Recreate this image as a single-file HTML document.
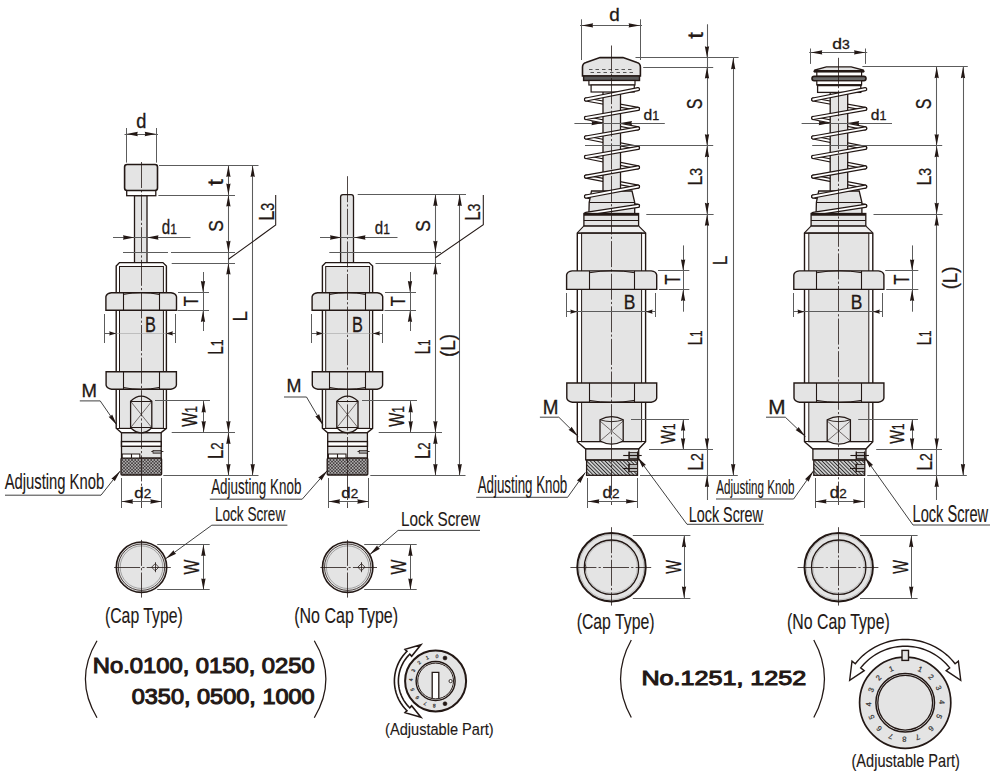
<!DOCTYPE html>
<html><head><meta charset="utf-8"><style>
html,body{margin:0;padding:0;background:#fff;width:1000px;height:779px;overflow:hidden}
svg{display:block}
text{font-family:"Liberation Sans",sans-serif;fill:#231815;stroke:#231815;stroke-width:0.3}
</style></head><body>
<svg width="1000" height="779" viewBox="0 0 1000 779">
<defs>
<pattern id="knurl" width="3.2" height="3.2" patternUnits="userSpaceOnUse">
<rect width="3.2" height="3.2" fill="#423d3e"/><circle cx="0.8" cy="0.8" r="0.72" fill="#e6e6e6"/><circle cx="2.4" cy="2.4" r="0.72" fill="#e6e6e6"/>
</pattern>
<pattern id="hatch" width="2.6" height="2.6" patternUnits="userSpaceOnUse" patternTransform="rotate(-45)">
<rect width="2.6" height="2.6" fill="#d4d4d4"/><rect width="0.95" height="2.6" fill="#2e2e2e"/>
</pattern>
</defs>
<rect width="1000" height="779" fill="#fff"/>
<rect x="134.5" y="195.5" width="12.5" height="67.5" rx="0" fill="#e4e4e4" stroke="#231815" stroke-width="1.3" />
<rect x="124.6" y="164.5" width="32.9" height="26.1" rx="2.5" fill="#e4e4e4" stroke="#231815" stroke-width="1.6" />
<rect x="126.7" y="190.6" width="29.1" height="5.1" rx="0" fill="#fff" stroke="#231815" stroke-width="1.3" />
<path d="M116.2 266 L119.5 262.6 L162.9 262.6 L166.4 266 L166.4 428.3 L160.9 432.8 L121.5 432.8 L116.2 428.3 Z" fill="#fff" stroke="#231815" stroke-width="1.4" />
<rect x="119.5" y="266.5" width="43.9" height="161.8" rx="0" fill="#e4e4e4" stroke="#231815" stroke-width="1.0" />
<line x1="116.2" y1="428.5" x2="166.2" y2="428.5" stroke="#231815" stroke-width="1.0" />
<rect x="121.5" y="432.8" width="39.7" height="25.4" rx="0" fill="#e4e4e4" stroke="#231815" stroke-width="1.3" />
<rect x="121.5" y="441.6" width="39.7" height="4.7" rx="0" fill="#fff" stroke="#231815" stroke-width="1.4" />
<path d="M122.2 458.2 L122.2 454 L139.8 454 L139.8 458.2" fill="#fff" stroke="#231815" stroke-width="1.1" />
<line x1="131.5" y1="454" x2="131.5" y2="458.2" stroke="#231815" stroke-width="1.1" />
<line x1="151.3" y1="451.5" x2="163.4" y2="451.5" stroke="#231815" stroke-width="0.9" />
<rect x="153" y="450.6" width="8" height="2.6" rx="0" fill="#999" stroke="#231815" stroke-width="0.7" />
<rect x="121" y="458.2" width="40.6" height="16.8" rx="1" fill="url(#knurl)" stroke="#231815" stroke-width="1.3" />
<path d="M105.9 310.3 L105.9 296.7 Q106.5 293.3 111.4 292.7 L171 292.7 Q175.9 293.3 176.5 296.7 L176.5 310.3 Z" fill="#e4e4e4" stroke="#231815" stroke-width="1.4" />
<line x1="123.5" y1="292.7" x2="123.5" y2="310.3" stroke="#231815" stroke-width="1.1" />
<line x1="159.5" y1="292.7" x2="159.5" y2="310.3" stroke="#231815" stroke-width="1.1" />
<path d="M123.1 294.5 Q141.2 290.5 159.3 294.5" fill="none" stroke="#231815" stroke-width="1.0" />
<path d="M106.1 371.8 L176.4 371.8 L176.4 385.2 Q175.8 388.6 170.9 389.2 L111.6 389.2 Q106.7 388.6 106.1 385.2 Z" fill="#e4e4e4" stroke="#231815" stroke-width="1.4" />
<line x1="123.5" y1="371.8" x2="123.5" y2="389.2" stroke="#231815" stroke-width="1.1" />
<line x1="159.5" y1="371.8" x2="159.5" y2="389.2" stroke="#231815" stroke-width="1.1" />
<path d="M123 387.4 Q141.2 391.4 159.4 387.4" fill="none" stroke="#231815" stroke-width="1.0" />
<path d="M130.6 401.3 Q141.2 391 151.8 401.3 L151.8 427.7 Q141.2 438 130.6 427.7 Z" fill="#e4e4e4" stroke="#231815" stroke-width="1.3" />
<line x1="130.6" y1="401.5" x2="151.8" y2="401.5" stroke="#231815" stroke-width="1.0" />
<line x1="130.6" y1="427.5" x2="151.8" y2="427.5" stroke="#231815" stroke-width="1.0" />
<line x1="130.6" y1="401.3" x2="151.8" y2="427.7" stroke="#231815" stroke-width="0.6" />
<line x1="151.8" y1="401.3" x2="130.6" y2="427.7" stroke="#231815" stroke-width="0.6" />
<line x1="141.5" y1="162" x2="141.5" y2="508" stroke="#231815" stroke-width="0.8" stroke-dasharray="26 2.2 2.2 2.2"/>
<circle cx="141.5" cy="567.2" r="25.2" fill="#e4e4e4" stroke="#231815" stroke-width="1.6" />
<circle cx="141.5" cy="567.2" r="23.2" fill="none" stroke="#231815" stroke-width="0.8" />
<circle cx="141.5" cy="567.2" r="21.3" fill="none" stroke="#777" stroke-width="0.6" />
<line x1="114.1" y1="567.5" x2="170.8" y2="567.5" stroke="#231815" stroke-width="0.8" stroke-dasharray="26 2.2 2.2 2.2"/>
<line x1="141.5" y1="539.9" x2="141.5" y2="597.6" stroke="#231815" stroke-width="0.8" stroke-dasharray="26 2.2 2.2 2.2"/>
<path d="M155.2 563.6 L158.8 567.2 L155.2 570.8 L151.6 567.2 Z" fill="none" stroke="#231815" stroke-width="0.8" />
<line x1="155.5" y1="562.2" x2="155.5" y2="572.2" stroke="#231815" stroke-width="0.8" />
<line x1="126.5" y1="128" x2="126.5" y2="162.6" stroke="#5c5c5c" stroke-width="1.05" />
<line x1="156.5" y1="128" x2="156.5" y2="162.6" stroke="#5c5c5c" stroke-width="1.05" />
<line x1="124.5" y1="134.5" x2="158" y2="134.5" stroke="#5c5c5c" stroke-width="1.05" />
<path d="M126.3 134 L137.8 131.85 L137.2 134 L137.8 136.15 Z" fill="#231815"/>
<path d="M156.2 134 L144.7 136.15 L145.3 134 L144.7 131.85 Z" fill="#231815"/>
<text x="136.23" y="128" font-size="19.31" style="stroke-width:0.3" textLength="10.14" lengthAdjust="spacingAndGlyphs">d</text>
<line x1="159" y1="165.5" x2="258.5" y2="165.5" stroke="#5c5c5c" stroke-width="1.05" />
<line x1="158.4" y1="195.5" x2="235" y2="195.5" stroke="#5c5c5c" stroke-width="1.05" />
<line x1="228.5" y1="165.4" x2="228.5" y2="475.5" stroke="#5c5c5c" stroke-width="1.05" />
<path d="M228.4 165.4 L230.55 176.9 L228.4 176.3 L226.25 176.9 Z" fill="#231815"/>
<path d="M228.4 195.1 L226.25 183.6 L228.4 184.2 L230.55 183.6 Z" fill="#231815"/>
<path d="M228.4 195.1 L230.55 206.6 L228.4 206 L226.25 206.6 Z" fill="#231815"/>
<path d="M228.4 252.3 L226.25 240.8 L228.4 241.4 L230.55 240.8 Z" fill="#231815"/>
<path d="M228.4 263 L230.55 274.5 L228.4 273.9 L226.25 274.5 Z" fill="#231815"/>
<path d="M228.4 432.6 L226.25 421.1 L228.4 421.7 L230.55 421.1 Z" fill="#231815"/>
<path d="M228.4 432.6 L230.55 444.1 L228.4 443.5 L226.25 444.1 Z" fill="#231815"/>
<path d="M228.4 475.5 L226.25 464 L228.4 464.6 L230.55 464 Z" fill="#231815"/>
<line x1="252.5" y1="165.4" x2="252.5" y2="475.5" stroke="#5c5c5c" stroke-width="1.05" />
<path d="M252.7 165.4 L254.85 176.9 L252.7 176.3 L250.55 176.9 Z" fill="#231815"/>
<path d="M252.7 475.5 L250.55 464 L252.7 464.6 L254.85 464 Z" fill="#231815"/>
<path d="M275.7 195 L275.7 225 L228.4 259.3" fill="none" stroke="#231815" stroke-width="1.05" />
<text transform="translate(223.4 185.4) rotate(-90)" x="-0.37" font-size="22.5" textLength="6.75" lengthAdjust="spacingAndGlyphs">t</text>
<text transform="translate(223.4 231) rotate(-90)" x="-0.79" font-size="21.13" textLength="11.59" lengthAdjust="spacingAndGlyphs">S</text>
<text transform="translate(273.5 219.3) rotate(-90)" x="-1.48" font-size="21.86" textLength="18.01" lengthAdjust="spacingAndGlyphs">L<tspan font-size="17.49">3</tspan></text>
<text transform="translate(223.4 353.5) rotate(-90)" x="-1.26" font-size="21.43" textLength="15.36" lengthAdjust="spacingAndGlyphs">L<tspan font-size="17.14">1</tspan></text>
<text transform="translate(246.8 320) rotate(-90)" x="-1.54" font-size="21.14" textLength="10.47" lengthAdjust="spacingAndGlyphs">L</text>
<text transform="translate(223.4 457.6) rotate(-90)" x="-1.36" font-size="21.43" textLength="16.63" lengthAdjust="spacingAndGlyphs">L<tspan font-size="17.14">2</tspan></text>
<line x1="113" y1="237.5" x2="190.5" y2="237.5" stroke="#5c5c5c" stroke-width="1.05" />
<path d="M134.5 237.5 L123 239.65 L123.6 237.5 L123 235.35 Z" fill="#231815"/>
<path d="M147 237.5 L158.5 235.35 L157.9 237.5 L158.5 239.65 Z" fill="#231815"/>
<text x="161.87" y="234" font-size="19.31" style="stroke-width:0.3" textLength="15.12" lengthAdjust="spacingAndGlyphs">d<tspan font-size="15.45">1</tspan></text>
<line x1="123" y1="252.5" x2="168" y2="252.5" stroke="#5c5c5c" stroke-width="1.05" />
<line x1="171" y1="252.5" x2="235" y2="252.5" stroke="#5c5c5c" stroke-width="1.05" />
<line x1="171.7" y1="263.5" x2="235" y2="263.5" stroke="#5c5c5c" stroke-width="1.05" />
<line x1="203.5" y1="272" x2="203.5" y2="331" stroke="#5c5c5c" stroke-width="1.05" />
<path d="M203 292.5 L200.85 281 L203 281.6 L205.15 281 Z" fill="#231815"/>
<path d="M203 310.4 L205.15 321.9 L203 321.3 L200.85 321.9 Z" fill="#231815"/>
<line x1="178" y1="292.5" x2="209" y2="292.5" stroke="#5c5c5c" stroke-width="1.05" />
<line x1="177.5" y1="310.5" x2="209" y2="310.5" stroke="#5c5c5c" stroke-width="1.05" />
<text transform="translate(198 305.9) rotate(-90)" x="-0.37" font-size="20.86" textLength="9.94" lengthAdjust="spacingAndGlyphs">T</text>
<line x1="104.5" y1="314" x2="104.5" y2="343" stroke="#5c5c5c" stroke-width="1.05" />
<line x1="175.5" y1="314" x2="175.5" y2="343" stroke="#5c5c5c" stroke-width="1.05" />
<line x1="104.6" y1="333.5" x2="116.2" y2="333.5" stroke="#5c5c5c" stroke-width="1.05" />
<line x1="165.9" y1="333.5" x2="175.2" y2="333.5" stroke="#5c5c5c" stroke-width="1.05" />
<line x1="116.2" y1="333.5" x2="165.9" y2="333.5" stroke="#999" stroke-width="0.5" />
<path d="M116.2 333.4 L109.2 335.55 L109.8 333.4 L109.2 331.25 Z" fill="#231815"/>
<path d="M165.9 333.4 L172.9 331.25 L172.3 333.4 L172.9 335.55 Z" fill="#231815"/>
<text x="144.96" y="331.6" font-size="21.57" style="stroke-width:0.3" textLength="10.9" lengthAdjust="spacingAndGlyphs">B</text>
<line x1="155" y1="400.5" x2="210" y2="400.5" stroke="#5c5c5c" stroke-width="1.05" />
<line x1="171.7" y1="432.5" x2="235" y2="432.5" stroke="#5c5c5c" stroke-width="1.05" />
<line x1="203.5" y1="401" x2="203.5" y2="432.6" stroke="#5c5c5c" stroke-width="1.05" />
<path d="M203.7 401 L205.85 412.5 L203.7 411.9 L201.55 412.5 Z" fill="#231815"/>
<path d="M203.7 432.6 L201.55 421.1 L203.7 421.7 L205.85 421.1 Z" fill="#231815"/>
<text transform="translate(196.7 426.7) rotate(-90)" x="-0.07" font-size="21.43" textLength="20.65" lengthAdjust="spacingAndGlyphs">W<tspan font-size="17.14">1</tspan></text>
<line x1="163.3" y1="475.5" x2="258.5" y2="475.5" stroke="#5c5c5c" stroke-width="1.05" />
<line x1="121.5" y1="478" x2="121.5" y2="508" stroke="#5c5c5c" stroke-width="1.05" />
<line x1="161.5" y1="478" x2="161.5" y2="508" stroke="#5c5c5c" stroke-width="1.05" />
<line x1="121.5" y1="501.5" x2="161.8" y2="501.5" stroke="#5c5c5c" stroke-width="1.05" />
<path d="M121.5 501.5 L133 499.35 L132.4 501.5 L133 503.65 Z" fill="#231815"/>
<path d="M161.8 501.5 L150.3 503.65 L150.9 501.5 L150.3 499.35 Z" fill="#231815"/>
<text x="134.29" y="498" font-size="15.45" style="stroke-width:0.3" textLength="16.89" lengthAdjust="spacingAndGlyphs">d<tspan font-size="12.36">2</tspan></text>
<line x1="157.2" y1="544.5" x2="209.7" y2="544.5" stroke="#5c5c5c" stroke-width="1.05" />
<line x1="157.2" y1="589.5" x2="209.7" y2="589.5" stroke="#5c5c5c" stroke-width="1.05" />
<line x1="203.5" y1="544.5" x2="203.5" y2="589.9" stroke="#5c5c5c" stroke-width="1.05" />
<path d="M203.4 544.5 L205.55 556 L203.4 555.4 L201.25 556 Z" fill="#231815"/>
<path d="M203.4 589.9 L201.25 578.4 L203.4 579 L205.55 578.4 Z" fill="#231815"/>
<text transform="translate(198.8 574.5) rotate(-90)" x="-0.07" font-size="22" textLength="14.82" lengthAdjust="spacingAndGlyphs">W</text>
<path d="M340.6 263 L340.6 197 Q340.6 194.6 343 194.6 L351.2 194.6 Q353.5 194.6 353.5 197 L353.5 263" fill="#e4e4e4" stroke="#231815" stroke-width="1.3" />
<path d="M322.4 266 L325.7 262.6 L369.1 262.6 L372.6 266 L372.6 428.3 L367.1 432.8 L327.7 432.8 L322.4 428.3 Z" fill="#fff" stroke="#231815" stroke-width="1.4" />
<rect x="325.7" y="266.5" width="43.9" height="161.8" rx="0" fill="#e4e4e4" stroke="#231815" stroke-width="1.0" />
<line x1="322.4" y1="428.5" x2="372.4" y2="428.5" stroke="#231815" stroke-width="1.0" />
<rect x="327.7" y="432.8" width="39.7" height="25.4" rx="0" fill="#e4e4e4" stroke="#231815" stroke-width="1.3" />
<rect x="327.7" y="441.6" width="39.7" height="4.7" rx="0" fill="#fff" stroke="#231815" stroke-width="1.4" />
<path d="M328.4 458.2 L328.4 454 L346 454 L346 458.2" fill="#fff" stroke="#231815" stroke-width="1.1" />
<line x1="337.5" y1="454" x2="337.5" y2="458.2" stroke="#231815" stroke-width="1.1" />
<line x1="357.5" y1="451.5" x2="369.6" y2="451.5" stroke="#231815" stroke-width="0.9" />
<rect x="359.2" y="450.6" width="8" height="2.6" rx="0" fill="#999" stroke="#231815" stroke-width="0.7" />
<rect x="327.2" y="458.2" width="40.6" height="16.8" rx="1" fill="url(#knurl)" stroke="#231815" stroke-width="1.3" />
<path d="M312.1 310.3 L312.1 296.7 Q312.7 293.3 317.6 292.7 L377.2 292.7 Q382.1 293.3 382.7 296.7 L382.7 310.3 Z" fill="#e4e4e4" stroke="#231815" stroke-width="1.4" />
<line x1="329.5" y1="292.7" x2="329.5" y2="310.3" stroke="#231815" stroke-width="1.1" />
<line x1="365.5" y1="292.7" x2="365.5" y2="310.3" stroke="#231815" stroke-width="1.1" />
<path d="M329.3 294.5 Q347.4 290.5 365.5 294.5" fill="none" stroke="#231815" stroke-width="1.0" />
<path d="M312.3 371.8 L382.6 371.8 L382.6 385.2 Q382 388.6 377.1 389.2 L317.8 389.2 Q312.9 388.6 312.3 385.2 Z" fill="#e4e4e4" stroke="#231815" stroke-width="1.4" />
<line x1="329.5" y1="371.8" x2="329.5" y2="389.2" stroke="#231815" stroke-width="1.1" />
<line x1="365.5" y1="371.8" x2="365.5" y2="389.2" stroke="#231815" stroke-width="1.1" />
<path d="M329.2 387.4 Q347.4 391.4 365.6 387.4" fill="none" stroke="#231815" stroke-width="1.0" />
<path d="M336.8 401.3 Q347.4 391 358 401.3 L358 427.7 Q347.4 438 336.8 427.7 Z" fill="#e4e4e4" stroke="#231815" stroke-width="1.3" />
<line x1="336.8" y1="401.5" x2="358" y2="401.5" stroke="#231815" stroke-width="1.0" />
<line x1="336.8" y1="427.5" x2="358" y2="427.5" stroke="#231815" stroke-width="1.0" />
<line x1="336.8" y1="401.3" x2="358" y2="427.7" stroke="#231815" stroke-width="0.6" />
<line x1="358" y1="401.3" x2="336.8" y2="427.7" stroke="#231815" stroke-width="0.6" />
<line x1="347.5" y1="176.2" x2="347.5" y2="508" stroke="#231815" stroke-width="0.8" stroke-dasharray="26 2.2 2.2 2.2"/>
<circle cx="347.7" cy="567.2" r="25.2" fill="#e4e4e4" stroke="#231815" stroke-width="1.6" />
<circle cx="347.7" cy="567.2" r="23.2" fill="none" stroke="#231815" stroke-width="0.8" />
<circle cx="347.7" cy="567.2" r="21.3" fill="none" stroke="#777" stroke-width="0.6" />
<line x1="320.3" y1="567.5" x2="377" y2="567.5" stroke="#231815" stroke-width="0.8" stroke-dasharray="26 2.2 2.2 2.2"/>
<line x1="347.5" y1="539.9" x2="347.5" y2="597.6" stroke="#231815" stroke-width="0.8" stroke-dasharray="26 2.2 2.2 2.2"/>
<path d="M361.4 563.6 L365 567.2 L361.4 570.8 L357.8 567.2 Z" fill="none" stroke="#231815" stroke-width="0.8" />
<line x1="361.5" y1="562.2" x2="361.5" y2="572.2" stroke="#231815" stroke-width="0.8" />
<line x1="357.7" y1="194.5" x2="466" y2="194.5" stroke="#5c5c5c" stroke-width="1.05" />
<line x1="435.5" y1="194.6" x2="435.5" y2="475.5" stroke="#5c5c5c" stroke-width="1.05" />
<path d="M435.4 194.6 L437.55 206.1 L435.4 205.5 L433.25 206.1 Z" fill="#231815"/>
<path d="M435.4 252.3 L433.25 240.8 L435.4 241.4 L437.55 240.8 Z" fill="#231815"/>
<path d="M435.4 263 L437.55 274.5 L435.4 273.9 L433.25 274.5 Z" fill="#231815"/>
<path d="M435.4 432.6 L433.25 421.1 L435.4 421.7 L437.55 421.1 Z" fill="#231815"/>
<path d="M435.4 432.6 L437.55 444.1 L435.4 443.5 L433.25 444.1 Z" fill="#231815"/>
<path d="M435.4 475.5 L433.25 464 L435.4 464.6 L437.55 464 Z" fill="#231815"/>
<line x1="459.5" y1="194.6" x2="459.5" y2="475.5" stroke="#5c5c5c" stroke-width="1.05" />
<path d="M459.7 194.6 L461.85 206.1 L459.7 205.5 L457.55 206.1 Z" fill="#231815"/>
<path d="M459.7 475.5 L457.55 464 L459.7 464.6 L461.85 464 Z" fill="#231815"/>
<path d="M483.3 195 L483.3 224.8 L435.4 257.7" fill="none" stroke="#231815" stroke-width="1.05" />
<text transform="translate(429.6 231) rotate(-90)" x="-0.79" font-size="20.14" textLength="11.59" lengthAdjust="spacingAndGlyphs">S</text>
<text transform="translate(479.6 219.3) rotate(-90)" x="-1.39" font-size="21.43" textLength="16.99" lengthAdjust="spacingAndGlyphs">L<tspan font-size="17.14">3</tspan></text>
<text transform="translate(430.3 353) rotate(-90)" x="-1.21" font-size="21.43" textLength="14.79" lengthAdjust="spacingAndGlyphs">L<tspan font-size="17.14">1</tspan></text>
<text transform="translate(454.7 355.9) rotate(-90)" x="-1.17" font-size="20.49" textLength="23.15" lengthAdjust="spacingAndGlyphs">(L)</text>
<text transform="translate(430.3 457.6) rotate(-90)" x="-1.36" font-size="21.43" textLength="16.63" lengthAdjust="spacingAndGlyphs">L<tspan font-size="17.14">2</tspan></text>
<line x1="320" y1="237.5" x2="397.5" y2="237.5" stroke="#5c5c5c" stroke-width="1.05" />
<path d="M341.5 237.5 L330 239.65 L330.6 237.5 L330 235.35 Z" fill="#231815"/>
<path d="M354 237.5 L365.5 235.35 L364.9 237.5 L365.5 239.65 Z" fill="#231815"/>
<text x="374.87" y="234.2" font-size="19.03" style="stroke-width:0.3" textLength="15.12" lengthAdjust="spacingAndGlyphs">d<tspan font-size="15.23">1</tspan></text>
<line x1="329.3" y1="252.5" x2="441" y2="252.5" stroke="#5c5c5c" stroke-width="1.05" />
<line x1="375.5" y1="263.5" x2="441" y2="263.5" stroke="#5c5c5c" stroke-width="1.05" />
<line x1="410.5" y1="272" x2="410.5" y2="331" stroke="#5c5c5c" stroke-width="1.05" />
<path d="M410 292.5 L407.85 281 L410 281.6 L412.15 281 Z" fill="#231815"/>
<path d="M410 310.4 L412.15 321.9 L410 321.3 L407.85 321.9 Z" fill="#231815"/>
<line x1="385" y1="292.5" x2="416" y2="292.5" stroke="#5c5c5c" stroke-width="1.05" />
<line x1="384.5" y1="310.5" x2="416" y2="310.5" stroke="#5c5c5c" stroke-width="1.05" />
<text transform="translate(405 305.9) rotate(-90)" x="-0.37" font-size="20.86" textLength="9.94" lengthAdjust="spacingAndGlyphs">T</text>
<line x1="311.5" y1="314" x2="311.5" y2="343" stroke="#5c5c5c" stroke-width="1.05" />
<line x1="382.5" y1="314" x2="382.5" y2="343" stroke="#5c5c5c" stroke-width="1.05" />
<line x1="311.6" y1="333.5" x2="323.2" y2="333.5" stroke="#5c5c5c" stroke-width="1.05" />
<line x1="372.9" y1="333.5" x2="382.2" y2="333.5" stroke="#5c5c5c" stroke-width="1.05" />
<line x1="323.2" y1="333.5" x2="372.9" y2="333.5" stroke="#999" stroke-width="0.5" />
<path d="M323.2 333.4 L316.2 335.55 L316.8 333.4 L316.2 331.25 Z" fill="#231815"/>
<path d="M372.9 333.4 L379.9 331.25 L379.3 333.4 L379.9 335.55 Z" fill="#231815"/>
<text x="351.96" y="331.6" font-size="21.57" style="stroke-width:0.3" textLength="10.9" lengthAdjust="spacingAndGlyphs">B</text>
<line x1="362" y1="400.5" x2="417" y2="400.5" stroke="#5c5c5c" stroke-width="1.05" />
<line x1="378.7" y1="432.5" x2="442" y2="432.5" stroke="#5c5c5c" stroke-width="1.05" />
<line x1="410.5" y1="401" x2="410.5" y2="432.6" stroke="#5c5c5c" stroke-width="1.05" />
<path d="M410.7 401 L412.85 412.5 L410.7 411.9 L408.55 412.5 Z" fill="#231815"/>
<path d="M410.7 432.6 L408.55 421.1 L410.7 421.7 L412.85 421.1 Z" fill="#231815"/>
<text transform="translate(403.7 426.7) rotate(-90)" x="-0.07" font-size="21.43" textLength="20.65" lengthAdjust="spacingAndGlyphs">W<tspan font-size="17.14">1</tspan></text>
<line x1="370.3" y1="475.5" x2="465.5" y2="475.5" stroke="#5c5c5c" stroke-width="1.05" />
<line x1="328.5" y1="478" x2="328.5" y2="508" stroke="#5c5c5c" stroke-width="1.05" />
<line x1="368.5" y1="478" x2="368.5" y2="508" stroke="#5c5c5c" stroke-width="1.05" />
<line x1="328.5" y1="501.5" x2="368.8" y2="501.5" stroke="#5c5c5c" stroke-width="1.05" />
<path d="M328.5 501.5 L340 499.35 L339.4 501.5 L340 503.65 Z" fill="#231815"/>
<path d="M368.8 501.5 L357.3 503.65 L357.9 501.5 L357.3 499.35 Z" fill="#231815"/>
<text x="341.29" y="498" font-size="15.45" style="stroke-width:0.3" textLength="16.89" lengthAdjust="spacingAndGlyphs">d<tspan font-size="12.36">2</tspan></text>
<line x1="364.2" y1="544.5" x2="416.7" y2="544.5" stroke="#5c5c5c" stroke-width="1.05" />
<line x1="364.2" y1="589.5" x2="416.7" y2="589.5" stroke="#5c5c5c" stroke-width="1.05" />
<line x1="410.5" y1="544.5" x2="410.5" y2="589.9" stroke="#5c5c5c" stroke-width="1.05" />
<path d="M410.4 544.5 L412.55 556 L410.4 555.4 L408.25 556 Z" fill="#231815"/>
<path d="M410.4 589.9 L408.25 578.4 L410.4 579 L412.55 578.4 Z" fill="#231815"/>
<text transform="translate(405.8 574.5) rotate(-90)" x="-0.07" font-size="22" textLength="14.82" lengthAdjust="spacingAndGlyphs">W</text>
<text x="81.58" y="396.7" font-size="19" style="stroke-width:0.3" textLength="15.44" lengthAdjust="spacingAndGlyphs">M</text>
<path d="M79.8 400.9 L100.2 400.9 L116.9 425.1" fill="none" stroke="#2a2a2a" stroke-width="0.9" />
<path d="M116.9 425.1 L108.6 416.86 L110.71 416.13 L112.14 414.41 Z" fill="#231815"/>
<text x="4.67" y="489.4" font-size="21.16" style="stroke-width:0.12" textLength="99.45" lengthAdjust="spacingAndGlyphs">Adjusting Knob</text>
<path d="M5 495.2 L101 495.2 L120.2 471" fill="none" stroke="#2a2a2a" stroke-width="0.9" />
<path d="M120.2 471 L114.74 481.35 L113.43 479.54 L111.37 478.67 Z" fill="#231815"/>
<text x="214.88" y="521" font-size="21" style="stroke-width:0.12" textLength="70.38" lengthAdjust="spacingAndGlyphs">Lock Screw</text>
<path d="M287.4 525.2 L211.8 525.2 L165.6 558.8" fill="none" stroke="#2a2a2a" stroke-width="0.9" />
<path d="M165.6 558.8 L173.64 550.3 L174.42 552.39 L176.17 553.77 Z" fill="#231815"/>
<text x="104.93" y="623.4" font-size="21.51" style="stroke-width:0.12" textLength="77.93" lengthAdjust="spacingAndGlyphs">(Cap Type)</text>
<text x="286.53" y="392.4" font-size="19.14" style="stroke-width:0.3" textLength="14.94" lengthAdjust="spacingAndGlyphs">M</text>
<path d="M284 397 L306.5 397 L323 425.1" fill="none" stroke="#2a2a2a" stroke-width="0.9" />
<path d="M323 425.1 L315.32 416.27 L317.48 415.7 L319.03 414.09 Z" fill="#231815"/>
<text x="211.17" y="494.2" font-size="22.32" style="stroke-width:0.12" textLength="90.19" lengthAdjust="spacingAndGlyphs">Adjusting Knob</text>
<path d="M209.8 499.2 L302.2 499.2 L327.4 470.4" fill="none" stroke="#2a2a2a" stroke-width="0.9" />
<path d="M327.4 470.4 L321.45 480.47 L320.22 478.6 L318.21 477.64 Z" fill="#231815"/>
<text x="401.05" y="526.2" font-size="21" style="stroke-width:0.12" textLength="78.92" lengthAdjust="spacingAndGlyphs">Lock Screw</text>
<path d="M480 530.4 L398.1 530.4 L369.8 554.6" fill="none" stroke="#2a2a2a" stroke-width="0.9" />
<path d="M369.8 554.6 L377.14 545.49 L378.08 547.52 L379.94 548.76 Z" fill="#231815"/>
<text x="294.22" y="623.4" font-size="21.51" style="stroke-width:0.12" textLength="103.86" lengthAdjust="spacingAndGlyphs">(No Cap Type)</text>
<line x1="638" y1="108.8" x2="586" y2="99.5" stroke="#231815" stroke-width="4.3" stroke-linecap="round"/>
<line x1="638" y1="128.3" x2="586" y2="118" stroke="#231815" stroke-width="4.3" stroke-linecap="round"/>
<line x1="638" y1="147.8" x2="586" y2="137.5" stroke="#231815" stroke-width="4.3" stroke-linecap="round"/>
<line x1="638" y1="167.3" x2="586" y2="157" stroke="#231815" stroke-width="4.3" stroke-linecap="round"/>
<line x1="638" y1="186.6" x2="586" y2="176.6" stroke="#231815" stroke-width="4.3" stroke-linecap="round"/>
<line x1="638" y1="205.8" x2="586" y2="196.5" stroke="#231815" stroke-width="4.3" stroke-linecap="round"/>
<line x1="638" y1="108.8" x2="586" y2="99.5" stroke="#fff" stroke-width="1.8" stroke-linecap="round"/>
<line x1="638" y1="128.3" x2="586" y2="118" stroke="#fff" stroke-width="1.8" stroke-linecap="round"/>
<line x1="638" y1="147.8" x2="586" y2="137.5" stroke="#fff" stroke-width="1.8" stroke-linecap="round"/>
<line x1="638" y1="167.3" x2="586" y2="157" stroke="#fff" stroke-width="1.8" stroke-linecap="round"/>
<line x1="638" y1="186.6" x2="586" y2="176.6" stroke="#fff" stroke-width="1.8" stroke-linecap="round"/>
<line x1="638" y1="205.8" x2="586" y2="196.5" stroke="#fff" stroke-width="1.8" stroke-linecap="round"/>
<rect x="603" y="88" width="17.5" height="126" rx="0" fill="#e4e4e4" stroke="#231815" stroke-width="1.3" />
<path d="M591.5 191 L632 191 L634.7 202.3 L634.7 213.8 L588.9 213.8 L589.2 202.3 Z" fill="#e4e4e4" stroke="#231815" stroke-width="1.3" />
<line x1="589.2" y1="202.5" x2="634.7" y2="202.5" stroke="#231815" stroke-width="1.1" />
<path d="M582.5 76 L582.5 67 Q582.5 63.5 586 62.5 L600 57.6 L623 57.6 L637 62.5 Q640.4 63.5 640.4 67 L640.4 76 Z" fill="#e4e4e4" stroke="#231815" stroke-width="1.6" />
<line x1="589" y1="69.5" x2="634" y2="69.5" stroke="#555" stroke-width="1.0" stroke-dasharray="3.5 3"/>
<line x1="590.5" y1="72.5" x2="634" y2="72.5" stroke="#555" stroke-width="1.0" stroke-dasharray="3.5 3"/>
<rect x="583.6" y="76" width="55.9" height="4.5" rx="0" fill="#5a5a5a" stroke="#231815" stroke-width="1.4" />
<rect x="588.9" y="80.5" width="46.1" height="4.5" rx="0" fill="#fff" stroke="#231815" stroke-width="1.2" />
<rect x="591.1" y="85" width="43.2" height="7" rx="0" fill="#fff" stroke="#231815" stroke-width="1.2" />
<line x1="586" y1="99.5" x2="638" y2="89.2" stroke="#231815" stroke-width="4.3" stroke-linecap="round"/>
<line x1="586" y1="118" x2="638" y2="108.8" stroke="#231815" stroke-width="4.3" stroke-linecap="round"/>
<line x1="586" y1="137.5" x2="638" y2="128.3" stroke="#231815" stroke-width="4.3" stroke-linecap="round"/>
<line x1="586" y1="157" x2="638" y2="147.8" stroke="#231815" stroke-width="4.3" stroke-linecap="round"/>
<line x1="586" y1="176.6" x2="638" y2="167.3" stroke="#231815" stroke-width="4.3" stroke-linecap="round"/>
<line x1="586" y1="196.5" x2="638" y2="186.6" stroke="#231815" stroke-width="4.3" stroke-linecap="round"/>
<line x1="586" y1="213.9" x2="638" y2="205.8" stroke="#231815" stroke-width="4.3" stroke-linecap="round"/>
<line x1="586" y1="99.5" x2="638" y2="89.2" stroke="#fff" stroke-width="1.8" stroke-linecap="round"/>
<line x1="586" y1="118" x2="638" y2="108.8" stroke="#fff" stroke-width="1.8" stroke-linecap="round"/>
<line x1="586" y1="137.5" x2="638" y2="128.3" stroke="#fff" stroke-width="1.8" stroke-linecap="round"/>
<line x1="586" y1="157" x2="638" y2="147.8" stroke="#fff" stroke-width="1.8" stroke-linecap="round"/>
<line x1="586" y1="176.6" x2="638" y2="167.3" stroke="#fff" stroke-width="1.8" stroke-linecap="round"/>
<line x1="586" y1="196.5" x2="638" y2="186.6" stroke="#fff" stroke-width="1.8" stroke-linecap="round"/>
<line x1="586" y1="213.9" x2="638" y2="205.8" stroke="#fff" stroke-width="1.8" stroke-linecap="round"/>
<rect x="583.9" y="213.5" width="54.7" height="12.7" rx="0" fill="#e4e4e4" stroke="#231815" stroke-width="1.3" />
<line x1="583.9" y1="214.6" x2="638.6" y2="214.6" stroke="#231815" stroke-width="2.2" />
<line x1="583.9" y1="220.5" x2="638.6" y2="220.5" stroke="#231815" stroke-width="1.1" />
<path d="M583.9 226.2 L638.6 226.2 L645.6 233.1 L645.6 441.8 L638.7 449 L585.7 449 L577.3 441.8 L577.3 233.1 Z" fill="#fff" stroke="#231815" stroke-width="1.4" />
<path d="M583.9 226.2 L638.6 226.2 L645.6 233.1 L577.3 233.1 Z" fill="#f0f0f0" stroke="#231815" stroke-width="1.0" />
<rect x="581.6" y="233.1" width="60" height="208.7" rx="0" fill="#e4e4e4" stroke="#231815" stroke-width="1.0" />
<line x1="577.3" y1="233.1" x2="645.6" y2="233.1" stroke="#231815" stroke-width="1.4" />
<line x1="577.3" y1="441.5" x2="645.6" y2="441.5" stroke="#231815" stroke-width="1.0" />
<path d="M566.6 289.4 L566.6 274.9 Q567.2 271.5 572.1 270.9 L651.2 270.9 Q656.1 271.5 656.7 274.9 L656.7 289.4 Z" fill="#e4e4e4" stroke="#231815" stroke-width="1.4" />
<line x1="589.5" y1="270.9" x2="589.5" y2="289.4" stroke="#231815" stroke-width="1.1" />
<line x1="634.5" y1="270.9" x2="634.5" y2="289.4" stroke="#231815" stroke-width="1.1" />
<path d="M589.7 272.7 Q612.05 268.7 634.4 272.7" fill="none" stroke="#231815" stroke-width="1.0" />
<path d="M566.8 383 L656.7 383 L656.7 398.2 Q656.1 401.6 651.2 402.2 L572.3 402.2 Q567.4 401.6 566.8 398.2 Z" fill="#e4e4e4" stroke="#231815" stroke-width="1.4" />
<line x1="589.5" y1="383" x2="589.5" y2="402.2" stroke="#231815" stroke-width="1.1" />
<line x1="634.5" y1="383" x2="634.5" y2="402.2" stroke="#231815" stroke-width="1.1" />
<path d="M589.3 400.4 Q611.75 404.4 634.2 400.4" fill="none" stroke="#231815" stroke-width="1.0" />
<path d="M600 419.8 Q611.6 413.5 623.2 419.8 L623.2 441 Q611.6 447.2 600 441 Z" fill="#e4e4e4" stroke="#231815" stroke-width="1.3" />
<path d="M600 419.8 Q611.6 423.5 623.2 419.8" fill="none" stroke="#231815" stroke-width="0.9" />
<line x1="600" y1="421" x2="623.2" y2="441" stroke="#231815" stroke-width="0.6" />
<line x1="623.2" y1="421" x2="600" y2="441" stroke="#231815" stroke-width="0.6" />
<rect x="585.7" y="449" width="53" height="10.9" rx="0" fill="#e4e4e4" stroke="#231815" stroke-width="1.3" />
<rect x="586.6" y="460.2" width="50.9" height="15.1" rx="0" fill="url(#hatch)" stroke="#231815" stroke-width="1.3" />
<rect x="629.1" y="452.5" width="8.5" height="6" rx="0" fill="#bbb" stroke="#231815" stroke-width="0.8" />
<line x1="623.2" y1="455.5" x2="641.7" y2="455.5" stroke="#231815" stroke-width="1.1" />
<line x1="629.1" y1="451.5" x2="629.1" y2="459.5" stroke="#231815" stroke-width="1.3" />
<line x1="637.5" y1="451.5" x2="637.5" y2="459.5" stroke="#231815" stroke-width="1.1" />
<rect x="629" y="464.5" width="8.5" height="7" rx="0" fill="#bbb" stroke="#231815" stroke-width="0.8" />
<line x1="622.8" y1="468.5" x2="637.5" y2="468.5" stroke="#231815" stroke-width="1.1" />
<line x1="629" y1="463.5" x2="629" y2="472.5" stroke="#231815" stroke-width="1.3" />
<line x1="611.5" y1="45.5" x2="611.5" y2="505" stroke="#231815" stroke-width="0.8" stroke-dasharray="26 2.2 2.2 2.2"/>
<circle cx="611.5" cy="567.2" r="34.2" fill="#e4e4e4" stroke="#231815" stroke-width="2.0" />
<circle cx="611.5" cy="567.2" r="32.5" fill="none" stroke="#999" stroke-width="0.5" />
<circle cx="611.5" cy="567.2" r="27.2" fill="none" stroke="#231815" stroke-width="1.3" />
<circle cx="611.5" cy="567.2" r="25.8" fill="none" stroke="#999" stroke-width="0.5" />
<line x1="570.4" y1="567.5" x2="651.2" y2="567.5" stroke="#231815" stroke-width="0.8" stroke-dasharray="26 2.2 2.2 2.2"/>
<line x1="611.5" y1="527.2" x2="611.5" y2="605.6" stroke="#231815" stroke-width="0.8" stroke-dasharray="26 2.2 2.2 2.2"/>
<path d="M584.5 562.2 Q587.5 567.2 584.5 572.2" fill="none" stroke="#231815" stroke-width="0.8" />
<line x1="581.5" y1="19.3" x2="581.5" y2="60" stroke="#5c5c5c" stroke-width="1.05" />
<line x1="640.5" y1="19.3" x2="640.5" y2="60" stroke="#5c5c5c" stroke-width="1.05" />
<line x1="580" y1="25.5" x2="642" y2="25.5" stroke="#5c5c5c" stroke-width="1.05" />
<path d="M581.6 25.4 L593.1 23.25 L592.5 25.4 L593.1 27.55 Z" fill="#231815"/>
<path d="M640.1 25.4 L628.6 27.55 L629.2 25.4 L628.6 23.25 Z" fill="#231815"/>
<text x="609.21" y="20.8" font-size="19.17" style="stroke-width:0.3" textLength="10.51" lengthAdjust="spacingAndGlyphs">d</text>
<line x1="635.5" y1="57.5" x2="738.6" y2="57.5" stroke="#5c5c5c" stroke-width="1.05" />
<line x1="643.2" y1="67.5" x2="713.2" y2="67.5" stroke="#5c5c5c" stroke-width="1.05" />
<line x1="707.5" y1="24.3" x2="707.5" y2="500" stroke="#5c5c5c" stroke-width="1.05" />
<path d="M707 57.8 L704.85 46.3 L707 46.9 L709.15 46.3 Z" fill="#231815"/>
<path d="M707 67 L709.15 78.5 L707 77.9 L704.85 78.5 Z" fill="#231815"/>
<text transform="translate(703.2 38.5) rotate(-90)" x="-0.37" font-size="21.72" textLength="6.75" lengthAdjust="spacingAndGlyphs">t</text>
<line x1="733.5" y1="57.8" x2="733.5" y2="475.5" stroke="#5c5c5c" stroke-width="1.05" />
<path d="M733.2 57.8 L735.35 69.3 L733.2 68.7 L731.05 69.3 Z" fill="#231815"/>
<path d="M733.2 475.5 L731.05 464 L733.2 464.6 L735.35 464 Z" fill="#231815"/>
<text transform="translate(727 263.9) rotate(-90)" x="-1.43" font-size="20.86" textLength="9.71" lengthAdjust="spacingAndGlyphs">L</text>
<path d="M707 145.7 L704.85 134.2 L707 134.8 L709.15 134.2 Z" fill="#231815"/>
<path d="M707 145.7 L709.15 157.2 L707 156.6 L704.85 157.2 Z" fill="#231815"/>
<path d="M707 214.3 L704.85 202.8 L707 203.4 L709.15 202.8 Z" fill="#231815"/>
<path d="M707 214.3 L709.15 225.8 L707 225.2 L704.85 225.8 Z" fill="#231815"/>
<path d="M707 449.7 L704.85 438.2 L707 438.8 L709.15 438.2 Z" fill="#231815"/>
<path d="M707 475.5 L709.15 487 L707 486.4 L704.85 487 Z" fill="#231815"/>
<line x1="585" y1="145.5" x2="713.2" y2="145.5" stroke="#5c5c5c" stroke-width="1.05" />
<line x1="646.3" y1="214.5" x2="713.6" y2="214.5" stroke="#5c5c5c" stroke-width="1.05" />
<text transform="translate(702.4 108.6) rotate(-90)" x="-0.73" font-size="21.69" textLength="10.66" lengthAdjust="spacingAndGlyphs">S</text>
<text transform="translate(701.6 184) rotate(-90)" x="-1.44" font-size="20.86" textLength="17.56" lengthAdjust="spacingAndGlyphs">L<tspan font-size="16.69">3</tspan></text>
<text transform="translate(701.6 344) rotate(-90)" x="-1.21" font-size="20.86" textLength="14.79" lengthAdjust="spacingAndGlyphs">L<tspan font-size="16.69">1</tspan></text>
<text transform="translate(702.9 469.4) rotate(-90)" x="-1.44" font-size="21.57" textLength="17.54" lengthAdjust="spacingAndGlyphs">L<tspan font-size="17.26">2</tspan></text>
<line x1="574.4" y1="123.5" x2="664.8" y2="123.5" stroke="#5c5c5c" stroke-width="1.05" />
<path d="M603 123.1 L591.5 125.25 L592.1 123.1 L591.5 120.95 Z" fill="#231815"/>
<path d="M620.5 123.1 L632 120.95 L631.4 123.1 L632 125.25 Z" fill="#231815"/>
<text x="643.54" y="120" font-size="15.45" style="stroke-width:0.3" textLength="15.67" lengthAdjust="spacingAndGlyphs">d<tspan font-size="12.36">1</tspan></text>
<line x1="566.5" y1="293" x2="566.5" y2="317" stroke="#5c5c5c" stroke-width="1.05" />
<line x1="655.5" y1="293" x2="655.5" y2="317" stroke="#5c5c5c" stroke-width="1.05" />
<line x1="566.1" y1="311.5" x2="655.5" y2="311.5" stroke="#5c5c5c" stroke-width="1.05" />
<path d="M577.3 311.7 L570.3 313.85 L570.9 311.7 L570.3 309.55 Z" fill="#231815"/>
<path d="M645.6 311.7 L652.6 309.55 L652 311.7 L652.6 313.85 Z" fill="#231815"/>
<text x="623.67" y="308.6" font-size="19.86" style="stroke-width:0.3" textLength="11.65" lengthAdjust="spacingAndGlyphs">B</text>
<line x1="683.5" y1="245.4" x2="683.5" y2="311.7" stroke="#5c5c5c" stroke-width="1.05" />
<path d="M683.1 270.9 L680.95 259.4 L683.1 260 L685.25 259.4 Z" fill="#231815"/>
<path d="M683.1 289.4 L685.25 300.9 L683.1 300.3 L680.95 300.9 Z" fill="#231815"/>
<line x1="658" y1="270.5" x2="689.3" y2="270.5" stroke="#5c5c5c" stroke-width="1.05" />
<line x1="659" y1="289.5" x2="689.3" y2="289.5" stroke="#5c5c5c" stroke-width="1.05" />
<text transform="translate(679.8 284.2) rotate(-90)" x="-0.37" font-size="21.57" textLength="9.94" lengthAdjust="spacingAndGlyphs">T</text>
<line x1="631" y1="419.5" x2="689" y2="419.5" stroke="#5c5c5c" stroke-width="1.05" />
<line x1="683.5" y1="419.3" x2="683.5" y2="449.4" stroke="#5c5c5c" stroke-width="1.05" />
<path d="M683.1 419.3 L685.25 430.8 L683.1 430.2 L680.95 430.8 Z" fill="#231815"/>
<path d="M683.1 449.7 L680.95 438.2 L683.1 438.8 L685.25 438.2 Z" fill="#231815"/>
<line x1="649" y1="449.5" x2="713" y2="449.5" stroke="#5c5c5c" stroke-width="1.05" />
<text transform="translate(674.7 443.7) rotate(-90)" x="-0.06" font-size="21" textLength="20.34" lengthAdjust="spacingAndGlyphs">W<tspan font-size="16.8">1</tspan></text>
<line x1="640" y1="475.5" x2="737.8" y2="475.5" stroke="#5c5c5c" stroke-width="1.05" />
<line x1="587.5" y1="478" x2="587.5" y2="508" stroke="#5c5c5c" stroke-width="1.05" />
<line x1="637.5" y1="478" x2="637.5" y2="508" stroke="#5c5c5c" stroke-width="1.05" />
<line x1="587.8" y1="501.5" x2="637.4" y2="501.5" stroke="#5c5c5c" stroke-width="1.05" />
<path d="M587.8 501.4 L599.3 499.25 L598.7 501.4 L599.3 503.55 Z" fill="#231815"/>
<path d="M637.4 501.4 L625.9 503.55 L626.5 501.4 L625.9 499.25 Z" fill="#231815"/>
<text x="602.59" y="498.3" font-size="16.28" style="stroke-width:0.3" textLength="16.89" lengthAdjust="spacingAndGlyphs">d<tspan font-size="13.02">2</tspan></text>
<line x1="632.8" y1="535.5" x2="690.4" y2="535.5" stroke="#5c5c5c" stroke-width="1.05" />
<line x1="632.8" y1="598.5" x2="690.4" y2="598.5" stroke="#5c5c5c" stroke-width="1.05" />
<line x1="684.5" y1="535.7" x2="684.5" y2="598" stroke="#5c5c5c" stroke-width="1.05" />
<path d="M684 535.7 L686.15 547.2 L684 546.6 L681.85 547.2 Z" fill="#231815"/>
<path d="M684 598 L681.85 586.5 L684 587.1 L686.15 586.5 Z" fill="#231815"/>
<text transform="translate(680.8 573.6) rotate(-90)" x="-0.06" font-size="21.71" textLength="13.71" lengthAdjust="spacingAndGlyphs">W</text>
<line x1="865.2" y1="108.8" x2="813.2" y2="99.5" stroke="#231815" stroke-width="4.3" stroke-linecap="round"/>
<line x1="865.2" y1="128.3" x2="813.2" y2="118" stroke="#231815" stroke-width="4.3" stroke-linecap="round"/>
<line x1="865.2" y1="147.8" x2="813.2" y2="137.5" stroke="#231815" stroke-width="4.3" stroke-linecap="round"/>
<line x1="865.2" y1="167.3" x2="813.2" y2="157" stroke="#231815" stroke-width="4.3" stroke-linecap="round"/>
<line x1="865.2" y1="186.6" x2="813.2" y2="176.6" stroke="#231815" stroke-width="4.3" stroke-linecap="round"/>
<line x1="865.2" y1="205.8" x2="813.2" y2="196.5" stroke="#231815" stroke-width="4.3" stroke-linecap="round"/>
<line x1="865.2" y1="108.8" x2="813.2" y2="99.5" stroke="#fff" stroke-width="1.8" stroke-linecap="round"/>
<line x1="865.2" y1="128.3" x2="813.2" y2="118" stroke="#fff" stroke-width="1.8" stroke-linecap="round"/>
<line x1="865.2" y1="147.8" x2="813.2" y2="137.5" stroke="#fff" stroke-width="1.8" stroke-linecap="round"/>
<line x1="865.2" y1="167.3" x2="813.2" y2="157" stroke="#fff" stroke-width="1.8" stroke-linecap="round"/>
<line x1="865.2" y1="186.6" x2="813.2" y2="176.6" stroke="#fff" stroke-width="1.8" stroke-linecap="round"/>
<line x1="865.2" y1="205.8" x2="813.2" y2="196.5" stroke="#fff" stroke-width="1.8" stroke-linecap="round"/>
<rect x="830.2" y="88" width="17.5" height="126" rx="0" fill="#e4e4e4" stroke="#231815" stroke-width="1.3" />
<path d="M818.7 191 L859.2 191 L861.9 202.3 L861.9 213.8 L816.1 213.8 L816.4 202.3 Z" fill="#e4e4e4" stroke="#231815" stroke-width="1.3" />
<line x1="816.4" y1="202.5" x2="861.9" y2="202.5" stroke="#231815" stroke-width="1.1" />
<path d="M826.4 66.8 L851.2 66.8 L863.2 70 L863.2 71.5 L814.8 71.5 L814.8 70 Z" fill="#e4e4e4" stroke="#231815" stroke-width="1.3" />
<rect x="816.8" y="71.5" width="44.8" height="4.9" rx="0" fill="#fff" stroke="#231815" stroke-width="1.2" />
<line x1="814.7" y1="71.2" x2="863.3" y2="71.2" stroke="#231815" stroke-width="2.4" stroke-linecap="round"/>
<rect x="812" y="76.4" width="54" height="4.4" rx="2.2" fill="#6a6a6a" stroke="#231815" stroke-width="1.6" />
<rect x="816.8" y="80.8" width="44.8" height="4" rx="0" fill="#fff" stroke="#231815" stroke-width="1.2" />
<line x1="816.8" y1="85.2" x2="861.6" y2="85.2" stroke="#231815" stroke-width="1.8" />
<rect x="817.6" y="85.6" width="43.2" height="6.8" rx="0" fill="#fff" stroke="#231815" stroke-width="1.3" />
<line x1="813.2" y1="99.5" x2="865.2" y2="89.2" stroke="#231815" stroke-width="4.3" stroke-linecap="round"/>
<line x1="813.2" y1="118" x2="865.2" y2="108.8" stroke="#231815" stroke-width="4.3" stroke-linecap="round"/>
<line x1="813.2" y1="137.5" x2="865.2" y2="128.3" stroke="#231815" stroke-width="4.3" stroke-linecap="round"/>
<line x1="813.2" y1="157" x2="865.2" y2="147.8" stroke="#231815" stroke-width="4.3" stroke-linecap="round"/>
<line x1="813.2" y1="176.6" x2="865.2" y2="167.3" stroke="#231815" stroke-width="4.3" stroke-linecap="round"/>
<line x1="813.2" y1="196.5" x2="865.2" y2="186.6" stroke="#231815" stroke-width="4.3" stroke-linecap="round"/>
<line x1="813.2" y1="213.9" x2="865.2" y2="205.8" stroke="#231815" stroke-width="4.3" stroke-linecap="round"/>
<line x1="813.2" y1="99.5" x2="865.2" y2="89.2" stroke="#fff" stroke-width="1.8" stroke-linecap="round"/>
<line x1="813.2" y1="118" x2="865.2" y2="108.8" stroke="#fff" stroke-width="1.8" stroke-linecap="round"/>
<line x1="813.2" y1="137.5" x2="865.2" y2="128.3" stroke="#fff" stroke-width="1.8" stroke-linecap="round"/>
<line x1="813.2" y1="157" x2="865.2" y2="147.8" stroke="#fff" stroke-width="1.8" stroke-linecap="round"/>
<line x1="813.2" y1="176.6" x2="865.2" y2="167.3" stroke="#fff" stroke-width="1.8" stroke-linecap="round"/>
<line x1="813.2" y1="196.5" x2="865.2" y2="186.6" stroke="#fff" stroke-width="1.8" stroke-linecap="round"/>
<line x1="813.2" y1="213.9" x2="865.2" y2="205.8" stroke="#fff" stroke-width="1.8" stroke-linecap="round"/>
<rect x="811.1" y="213.5" width="54.7" height="12.7" rx="0" fill="#e4e4e4" stroke="#231815" stroke-width="1.3" />
<line x1="811.1" y1="214.6" x2="865.8" y2="214.6" stroke="#231815" stroke-width="2.2" />
<line x1="811.1" y1="220.5" x2="865.8" y2="220.5" stroke="#231815" stroke-width="1.1" />
<path d="M811.1 226.2 L865.8 226.2 L872.8 233.1 L872.8 441.8 L865.9 449 L812.9 449 L804.5 441.8 L804.5 233.1 Z" fill="#fff" stroke="#231815" stroke-width="1.4" />
<path d="M811.1 226.2 L865.8 226.2 L872.8 233.1 L804.5 233.1 Z" fill="#f0f0f0" stroke="#231815" stroke-width="1.0" />
<rect x="808.8" y="233.1" width="60" height="208.7" rx="0" fill="#e4e4e4" stroke="#231815" stroke-width="1.0" />
<line x1="804.5" y1="233.1" x2="872.8" y2="233.1" stroke="#231815" stroke-width="1.4" />
<line x1="804.5" y1="441.5" x2="872.8" y2="441.5" stroke="#231815" stroke-width="1.0" />
<path d="M793.8 289.4 L793.8 274.9 Q794.4 271.5 799.3 270.9 L878.4 270.9 Q883.3 271.5 883.9 274.9 L883.9 289.4 Z" fill="#e4e4e4" stroke="#231815" stroke-width="1.4" />
<line x1="816.5" y1="270.9" x2="816.5" y2="289.4" stroke="#231815" stroke-width="1.1" />
<line x1="861.5" y1="270.9" x2="861.5" y2="289.4" stroke="#231815" stroke-width="1.1" />
<path d="M816.9 272.7 Q839.25 268.7 861.6 272.7" fill="none" stroke="#231815" stroke-width="1.0" />
<path d="M794 383 L883.9 383 L883.9 398.2 Q883.3 401.6 878.4 402.2 L799.5 402.2 Q794.6 401.6 794 398.2 Z" fill="#e4e4e4" stroke="#231815" stroke-width="1.4" />
<line x1="816.5" y1="383" x2="816.5" y2="402.2" stroke="#231815" stroke-width="1.1" />
<line x1="861.5" y1="383" x2="861.5" y2="402.2" stroke="#231815" stroke-width="1.1" />
<path d="M816.5 400.4 Q838.95 404.4 861.4 400.4" fill="none" stroke="#231815" stroke-width="1.0" />
<path d="M827.2 419.8 Q838.8 413.5 850.4 419.8 L850.4 441 Q838.8 447.2 827.2 441 Z" fill="#e4e4e4" stroke="#231815" stroke-width="1.3" />
<path d="M827.2 419.8 Q838.8 423.5 850.4 419.8" fill="none" stroke="#231815" stroke-width="0.9" />
<line x1="827.2" y1="421" x2="850.4" y2="441" stroke="#231815" stroke-width="0.6" />
<line x1="850.4" y1="421" x2="827.2" y2="441" stroke="#231815" stroke-width="0.6" />
<rect x="812.9" y="449" width="53" height="10.9" rx="0" fill="#e4e4e4" stroke="#231815" stroke-width="1.3" />
<rect x="813.8" y="460.2" width="50.9" height="15.1" rx="0" fill="url(#hatch)" stroke="#231815" stroke-width="1.3" />
<rect x="856.3" y="452.5" width="8.5" height="6" rx="0" fill="#bbb" stroke="#231815" stroke-width="0.8" />
<line x1="850.4" y1="455.5" x2="868.9" y2="455.5" stroke="#231815" stroke-width="1.1" />
<line x1="856.3" y1="451.5" x2="856.3" y2="459.5" stroke="#231815" stroke-width="1.3" />
<line x1="864.5" y1="451.5" x2="864.5" y2="459.5" stroke="#231815" stroke-width="1.1" />
<rect x="856.2" y="464.5" width="8.5" height="7" rx="0" fill="#bbb" stroke="#231815" stroke-width="0.8" />
<line x1="850" y1="468.5" x2="864.7" y2="468.5" stroke="#231815" stroke-width="1.1" />
<line x1="856.2" y1="463.5" x2="856.2" y2="472.5" stroke="#231815" stroke-width="1.3" />
<line x1="838.5" y1="57.8" x2="838.5" y2="505" stroke="#231815" stroke-width="0.8" stroke-dasharray="26 2.2 2.2 2.2"/>
<circle cx="838.7" cy="567.2" r="34.2" fill="#e4e4e4" stroke="#231815" stroke-width="2.0" />
<circle cx="838.7" cy="567.2" r="32.5" fill="none" stroke="#999" stroke-width="0.5" />
<circle cx="838.7" cy="567.2" r="27.2" fill="none" stroke="#231815" stroke-width="1.3" />
<circle cx="838.7" cy="567.2" r="25.8" fill="none" stroke="#999" stroke-width="0.5" />
<line x1="797.6" y1="567.5" x2="878.4" y2="567.5" stroke="#231815" stroke-width="0.8" stroke-dasharray="26 2.2 2.2 2.2"/>
<line x1="838.5" y1="527.2" x2="838.5" y2="605.6" stroke="#231815" stroke-width="0.8" stroke-dasharray="26 2.2 2.2 2.2"/>
<line x1="810.5" y1="48.5" x2="810.5" y2="63.9" stroke="#5c5c5c" stroke-width="1.05" />
<line x1="865.5" y1="48.5" x2="865.5" y2="63.9" stroke="#5c5c5c" stroke-width="1.05" />
<line x1="809.2" y1="52.5" x2="867.2" y2="52.5" stroke="#5c5c5c" stroke-width="1.05" />
<path d="M810.8 52.4 L822.3 50.25 L821.7 52.4 L822.3 54.55 Z" fill="#231815"/>
<path d="M865.5 52.4 L854 54.55 L854.6 52.4 L854 50.25 Z" fill="#231815"/>
<text x="832.36" y="49.3" font-size="14.9" style="stroke-width:0.3" textLength="17.55" lengthAdjust="spacingAndGlyphs">d<tspan font-size="11.92">3</tspan></text>
<line x1="862.4" y1="66.5" x2="967.8" y2="66.5" stroke="#5c5c5c" stroke-width="1.05" />
<line x1="936.5" y1="66.7" x2="936.5" y2="500" stroke="#5c5c5c" stroke-width="1.05" />
<path d="M936.7 66.7 L938.85 78.2 L936.7 77.6 L934.55 78.2 Z" fill="#231815"/>
<line x1="963.5" y1="66.7" x2="963.5" y2="475.5" stroke="#5c5c5c" stroke-width="1.05" />
<path d="M963 66.7 L965.15 78.2 L963 77.6 L960.85 78.2 Z" fill="#231815"/>
<path d="M963 475.5 L960.85 464 L963 464.6 L965.15 464 Z" fill="#231815"/>
<text transform="translate(956.5 288.2) rotate(-90)" x="-1.16" font-size="20.49" textLength="22.82" lengthAdjust="spacingAndGlyphs">(L)</text>
<path d="M936.7 145.7 L934.55 134.2 L936.7 134.8 L938.85 134.2 Z" fill="#231815"/>
<path d="M936.7 145.7 L938.85 157.2 L936.7 156.6 L934.55 157.2 Z" fill="#231815"/>
<path d="M936.7 214.3 L934.55 202.8 L936.7 203.4 L938.85 202.8 Z" fill="#231815"/>
<path d="M936.7 214.3 L938.85 225.8 L936.7 225.2 L934.55 225.8 Z" fill="#231815"/>
<path d="M936.7 449.7 L934.55 438.2 L936.7 438.8 L938.85 438.2 Z" fill="#231815"/>
<path d="M936.7 475.5 L938.85 487 L936.7 486.4 L934.55 487 Z" fill="#231815"/>
<line x1="812.2" y1="145.5" x2="942.2" y2="145.5" stroke="#5c5c5c" stroke-width="1.05" />
<line x1="873.5" y1="214.5" x2="942.6" y2="214.5" stroke="#5c5c5c" stroke-width="1.05" />
<text transform="translate(931.4 108.6) rotate(-90)" x="-0.73" font-size="21.69" textLength="10.66" lengthAdjust="spacingAndGlyphs">S</text>
<text transform="translate(930.6 184) rotate(-90)" x="-1.44" font-size="20.86" textLength="17.56" lengthAdjust="spacingAndGlyphs">L<tspan font-size="16.69">3</tspan></text>
<text transform="translate(930.6 344) rotate(-90)" x="-1.21" font-size="20.86" textLength="14.79" lengthAdjust="spacingAndGlyphs">L<tspan font-size="16.69">1</tspan></text>
<text transform="translate(931.9 469.4) rotate(-90)" x="-1.44" font-size="21.57" textLength="17.54" lengthAdjust="spacingAndGlyphs">L<tspan font-size="17.26">2</tspan></text>
<line x1="801.6" y1="123.5" x2="892" y2="123.5" stroke="#5c5c5c" stroke-width="1.05" />
<path d="M830.2 123.1 L818.7 125.25 L819.3 123.1 L818.7 120.95 Z" fill="#231815"/>
<path d="M847.7 123.1 L859.2 120.95 L858.6 123.1 L859.2 125.25 Z" fill="#231815"/>
<text x="870.74" y="120" font-size="15.45" style="stroke-width:0.3" textLength="15.67" lengthAdjust="spacingAndGlyphs">d<tspan font-size="12.36">1</tspan></text>
<line x1="793.5" y1="293" x2="793.5" y2="317" stroke="#5c5c5c" stroke-width="1.05" />
<line x1="882.5" y1="293" x2="882.5" y2="317" stroke="#5c5c5c" stroke-width="1.05" />
<line x1="793.3" y1="311.5" x2="882.7" y2="311.5" stroke="#5c5c5c" stroke-width="1.05" />
<path d="M804.5 311.7 L797.5 313.85 L798.1 311.7 L797.5 309.55 Z" fill="#231815"/>
<path d="M872.8 311.7 L879.8 309.55 L879.2 311.7 L879.8 313.85 Z" fill="#231815"/>
<text x="850.87" y="308.6" font-size="19.86" style="stroke-width:0.3" textLength="11.65" lengthAdjust="spacingAndGlyphs">B</text>
<line x1="912.5" y1="245.4" x2="912.5" y2="311.7" stroke="#5c5c5c" stroke-width="1.05" />
<path d="M912.1 270.9 L909.95 259.4 L912.1 260 L914.25 259.4 Z" fill="#231815"/>
<path d="M912.1 289.4 L914.25 300.9 L912.1 300.3 L909.95 300.9 Z" fill="#231815"/>
<line x1="885.2" y1="270.5" x2="918.3" y2="270.5" stroke="#5c5c5c" stroke-width="1.05" />
<line x1="886.2" y1="289.5" x2="918.3" y2="289.5" stroke="#5c5c5c" stroke-width="1.05" />
<text transform="translate(908.8 284.2) rotate(-90)" x="-0.37" font-size="21.57" textLength="9.94" lengthAdjust="spacingAndGlyphs">T</text>
<line x1="858.2" y1="419.5" x2="918" y2="419.5" stroke="#5c5c5c" stroke-width="1.05" />
<line x1="912.5" y1="419.3" x2="912.5" y2="449.4" stroke="#5c5c5c" stroke-width="1.05" />
<path d="M912.1 419.3 L914.25 430.8 L912.1 430.2 L909.95 430.8 Z" fill="#231815"/>
<path d="M912.1 449.7 L909.95 438.2 L912.1 438.8 L914.25 438.2 Z" fill="#231815"/>
<line x1="876.2" y1="449.5" x2="942" y2="449.5" stroke="#5c5c5c" stroke-width="1.05" />
<text transform="translate(903.7 443.7) rotate(-90)" x="-0.06" font-size="21" textLength="20.34" lengthAdjust="spacingAndGlyphs">W<tspan font-size="16.8">1</tspan></text>
<line x1="867.2" y1="475.5" x2="966.8" y2="475.5" stroke="#5c5c5c" stroke-width="1.05" />
<line x1="815.5" y1="478" x2="815.5" y2="508" stroke="#5c5c5c" stroke-width="1.05" />
<line x1="864.5" y1="478" x2="864.5" y2="508" stroke="#5c5c5c" stroke-width="1.05" />
<line x1="815" y1="501.5" x2="864.6" y2="501.5" stroke="#5c5c5c" stroke-width="1.05" />
<path d="M815 501.4 L826.5 499.25 L825.9 501.4 L826.5 503.55 Z" fill="#231815"/>
<path d="M864.6 501.4 L853.1 503.55 L853.7 501.4 L853.1 499.25 Z" fill="#231815"/>
<text x="829.79" y="498.3" font-size="16.28" style="stroke-width:0.3" textLength="16.89" lengthAdjust="spacingAndGlyphs">d<tspan font-size="13.02">2</tspan></text>
<line x1="860" y1="535.5" x2="917.6" y2="535.5" stroke="#5c5c5c" stroke-width="1.05" />
<line x1="860" y1="598.5" x2="917.6" y2="598.5" stroke="#5c5c5c" stroke-width="1.05" />
<line x1="911.5" y1="535.7" x2="911.5" y2="598" stroke="#5c5c5c" stroke-width="1.05" />
<path d="M911.2 535.7 L913.35 547.2 L911.2 546.6 L909.05 547.2 Z" fill="#231815"/>
<path d="M911.2 598 L909.05 586.5 L911.2 587.1 L913.35 586.5 Z" fill="#231815"/>
<text transform="translate(908 573.6) rotate(-90)" x="-0.06" font-size="21.71" textLength="13.71" lengthAdjust="spacingAndGlyphs">W</text>
<text x="542.85" y="413.9" font-size="19.29" style="stroke-width:0.3" textLength="15.69" lengthAdjust="spacingAndGlyphs">M</text>
<path d="M539.9 417.2 L558.8 417.2 L578.2 436.4" fill="none" stroke="#2a2a2a" stroke-width="0.9" />
<path d="M578.2 436.4 L568.51 429.84 L570.45 428.73 L571.54 426.78 Z" fill="#231815"/>
<text x="477.67" y="492.7" font-size="23.33" style="stroke-width:0.12" textLength="89.59" lengthAdjust="spacingAndGlyphs">Adjusting Knob</text>
<path d="M476.2 497.3 L567.6 497.3 L585.3 472.5" fill="none" stroke="#2a2a2a" stroke-width="0.9" />
<path d="M585.3 472.5 L580.37 483.11 L578.97 481.37 L576.87 480.61 Z" fill="#231815"/>
<text x="688.82" y="522.1" font-size="22.14" style="stroke-width:0.12" textLength="74.14" lengthAdjust="spacingAndGlyphs">Lock Screw</text>
<path d="M763.9 524.3 L687 524.3 L637.4 457" fill="none" stroke="#2a2a2a" stroke-width="0.9" />
<path d="M637.4 457 L645.95 464.98 L643.87 465.77 L642.49 467.53 Z" fill="#231815"/>
<text x="576.63" y="628.9" font-size="21.51" style="stroke-width:0.12" textLength="77.93" lengthAdjust="spacingAndGlyphs">(Cap Type)</text>
<text x="768.3" y="414.1" font-size="19.71" style="stroke-width:0.3" textLength="17.31" lengthAdjust="spacingAndGlyphs">M</text>
<path d="M766 417.2 L785.3 417.2 L805.4 436.4" fill="none" stroke="#2a2a2a" stroke-width="0.9" />
<path d="M805.4 436.4 L795.6 430.01 L797.52 428.87 L798.57 426.9 Z" fill="#231815"/>
<text x="716.18" y="493.9" font-size="19.57" style="stroke-width:0.12" textLength="78.31" lengthAdjust="spacingAndGlyphs">Adjusting Knob</text>
<path d="M716 499 L793.6 499 L813.4 471" fill="none" stroke="#2a2a2a" stroke-width="0.9" />
<path d="M813.4 471 L808.52 481.63 L807.11 479.9 L805 479.15 Z" fill="#231815"/>
<text x="912.5" y="521.5" font-size="24.71" style="stroke-width:0.12" textLength="75.67" lengthAdjust="spacingAndGlyphs">Lock Screw</text>
<path d="M990 525 L913 525 L864.6 457" fill="none" stroke="#2a2a2a" stroke-width="0.9" />
<path d="M864.6 457 L873.02 465.12 L870.92 465.88 L869.52 467.62 Z" fill="#231815"/>
<text x="787.03" y="628.9" font-size="21.51" style="stroke-width:0.12" textLength="102.74" lengthAdjust="spacingAndGlyphs">(No Cap Type)</text>
<path d="M97 640.8 Q73.82 679.25 97 717.7" fill="none" stroke="#231815" stroke-width="1.25" />
<path d="M314.3 640.8 Q337.48 679.25 314.3 717.7" fill="none" stroke="#231815" stroke-width="1.25" />
<text x="92.85" y="673.4" font-size="22.08" style="stroke-width:1.05" textLength="221.88" lengthAdjust="spacingAndGlyphs">No.0100, 0150, 0250</text>
<text x="131.68" y="703.9" font-size="21.39" style="stroke-width:1.05" textLength="183.04" lengthAdjust="spacingAndGlyphs">0350, 0500, 1000</text>
<path d="M631.3 640 Q609.83 678.75 631.3 717.5" fill="none" stroke="#231815" stroke-width="1.25" />
<path d="M813.8 640 Q835.08 678.75 813.8 717.5" fill="none" stroke="#231815" stroke-width="1.25" />
<text x="641.44" y="685.2" font-size="21.11" style="stroke-width:1.05" textLength="164.82" lengthAdjust="spacingAndGlyphs">No.1251, 1252</text>
<path d="M420.92 717.35 L405.04 712.65 L406.98 710.64 L405.81 709.46 L404.7 708.25 L403.63 706.98 L402.61 705.68 L401.65 704.34 L400.74 702.95 L399.88 701.54 L399.09 700.09 L398.35 698.61 L397.68 697.1 L397.06 695.56 L396.51 694 L396.02 692.43 L395.59 690.83 L395.23 689.21 L394.93 687.59 L394.7 685.95 L394.53 684.3 L394.43 682.65 L394.4 681 L394.43 679.35 L394.53 677.7 L394.7 676.05 L394.93 674.41 L395.23 672.79 L395.59 671.17 L396.02 669.57 L396.51 668 L397.06 666.44 L397.68 664.9 L398.35 663.39 L399.09 661.91 L399.88 660.46 L400.74 659.05 L401.65 657.66 L402.61 656.32 L403.63 655.02 L404.7 653.75 L405.81 652.54 L406.98 651.36 L405.04 649.35 L420.92 644.65 L411.63 656.18 L409.76 654.24 L408.71 655.3 L407.7 656.4 L406.73 657.54 L405.81 658.72 L404.94 659.93 L404.12 661.18 L403.35 662.46 L402.63 663.77 L401.97 665.1 L401.36 666.46 L400.8 667.85 L400.3 669.26 L399.86 670.68 L399.47 672.13 L399.15 673.58 L398.88 675.05 L398.67 676.53 L398.52 678.02 L398.43 679.51 L398.4 681 L398.43 682.49 L398.52 683.98 L398.67 685.47 L398.88 686.95 L399.15 688.42 L399.47 689.87 L399.86 691.32 L400.3 692.74 L400.8 694.15 L401.36 695.54 L401.97 696.9 L402.63 698.23 L403.35 699.54 L404.12 700.82 L404.94 702.07 L405.81 703.28 L406.73 704.46 L407.7 705.6 L408.71 706.7 L409.76 707.76 L411.63 705.82 Z" fill="#fff" stroke="#231815" stroke-width="1.6" />
<circle cx="435.6" cy="681" r="30.5" fill="#e4e4e4" stroke="#231815" stroke-width="2.0" />
<circle cx="435.6" cy="681" r="19.5" fill="#f4f4f4" stroke="#231815" stroke-width="1.4" />
<circle cx="435.6" cy="681" r="17.9" fill="#e4e4e4" stroke="#231815" stroke-width="1.0" />
<text transform="translate(436.91 656.03) rotate(363)" font-size="5" text-anchor="middle" dominant-baseline="central" style="fill:#3a3a3a;stroke:#3a3a3a;stroke-width:0.25">0</text>
<text transform="translate(427.05 657.51) rotate(340)" font-size="5" text-anchor="middle" dominant-baseline="central" style="fill:#3a3a3a;stroke:#3a3a3a;stroke-width:0.25">1</text>
<text transform="translate(418.87 662.42) rotate(318)" font-size="5" text-anchor="middle" dominant-baseline="central" style="fill:#3a3a3a;stroke:#3a3a3a;stroke-width:0.25">2</text>
<text transform="translate(412.94 670.43) rotate(295)" font-size="5" text-anchor="middle" dominant-baseline="central" style="fill:#3a3a3a;stroke:#3a3a3a;stroke-width:0.25">3</text>
<text transform="translate(410.63 679.69) rotate(273)" font-size="5" text-anchor="middle" dominant-baseline="central" style="fill:#3a3a3a;stroke:#3a3a3a;stroke-width:0.25">4</text>
<text transform="translate(412.11 689.55) rotate(250)" font-size="5" text-anchor="middle" dominant-baseline="central" style="fill:#3a3a3a;stroke:#3a3a3a;stroke-width:0.25">5</text>
<text transform="translate(417.02 697.73) rotate(228)" font-size="5" text-anchor="middle" dominant-baseline="central" style="fill:#3a3a3a;stroke:#3a3a3a;stroke-width:0.25">6</text>
<text transform="translate(425.03 703.66) rotate(205)" font-size="5" text-anchor="middle" dominant-baseline="central" style="fill:#3a3a3a;stroke:#3a3a3a;stroke-width:0.25">7</text>
<text transform="translate(434.29 705.97) rotate(183)" font-size="5" text-anchor="middle" dominant-baseline="central" style="fill:#3a3a3a;stroke:#3a3a3a;stroke-width:0.25">8</text>
<circle cx="445" cy="658" r="2" fill="#231815" stroke="#231815" stroke-width="0.5" />
<circle cx="445" cy="703.7" r="2" fill="#231815" stroke="#231815" stroke-width="0.5" />
<circle cx="450.6" cy="681.1" r="1.6" fill="#fff" stroke="#231815" stroke-width="0.9" />
<path d="M432.2 698 L432.2 672.4 L438.8 672.4 L438.8 698" fill="#fff" stroke="#231815" stroke-width="1.3" />
<text x="385.1" y="734.8" font-size="16.57" style="stroke-width:0.12" textLength="108.61" lengthAdjust="spacingAndGlyphs">(Adjustable Part)</text>
<path d="M849.66 680.26 L852.01 661.14 L855.32 663.73 L857.14 661.51 L859.06 659.37 L861.07 657.32 L863.17 655.36 L865.36 653.51 L867.64 651.75 L869.99 650.1 L872.41 648.56 L874.9 647.12 L877.45 645.81 L880.06 644.61 L882.72 643.53 L885.43 642.57 L888.18 641.73 L890.96 641.02 L893.77 640.44 L896.61 639.99 L899.46 639.66 L902.33 639.47 L905.2 639.4 L908.07 639.47 L910.94 639.66 L913.79 639.99 L916.63 640.44 L919.44 641.02 L922.22 641.73 L924.97 642.57 L927.68 643.53 L930.34 644.61 L932.95 645.81 L935.5 647.12 L937.99 648.56 L940.41 650.1 L942.76 651.75 L945.04 653.51 L947.23 655.36 L949.33 657.32 L951.34 659.37 L953.26 661.51 L955.08 663.73 L958.39 661.14 L960.74 680.26 L946.18 670.69 L949.72 667.92 L948.1 665.93 L946.39 664.02 L944.59 662.19 L942.71 660.45 L940.76 658.79 L938.73 657.22 L936.63 655.75 L934.47 654.37 L932.25 653.09 L929.97 651.92 L927.64 650.85 L925.26 649.88 L922.85 649.03 L920.39 648.28 L917.91 647.65 L915.4 647.13 L912.87 646.72 L910.32 646.43 L907.76 646.26 L905.2 646.2 L902.64 646.26 L900.08 646.43 L897.53 646.72 L895 647.13 L892.49 647.65 L890.01 648.28 L887.55 649.03 L885.14 649.88 L882.76 650.85 L880.43 651.92 L878.15 653.09 L875.93 654.37 L873.77 655.75 L871.67 657.22 L869.64 658.79 L867.69 660.45 L865.81 662.19 L864.01 664.02 L862.3 665.93 L860.68 667.92 L864.22 670.69 Z" fill="#fff" stroke="#231815" stroke-width="1.4" />
<circle cx="905.2" cy="702.7" r="45.6" fill="#e4e4e4" stroke="#231815" stroke-width="1.7" />
<circle cx="905.2" cy="702.7" r="29.3" fill="#f4f4f4" stroke="#231815" stroke-width="1.5" />
<circle cx="905.2" cy="702.7" r="27.4" fill="#e4e4e4" stroke="#231815" stroke-width="1.3" />
<rect x="902" y="650.4" width="6.5" height="10" rx="0" fill="#e4e4e4" stroke="#231815" stroke-width="1.4" />
<text transform="translate(891.17 669) rotate(337.4)" font-size="7.5" text-anchor="middle" dominant-baseline="central" style="fill:#3a3a3a;stroke:#3a3a3a;stroke-width:0.25">1</text>
<text transform="translate(878.51 677.81) rotate(313)" font-size="7.5" text-anchor="middle" dominant-baseline="central" style="fill:#3a3a3a;stroke:#3a3a3a;stroke-width:0.25">2</text>
<text transform="translate(871.03 689.86) rotate(290.6)" font-size="7.5" text-anchor="middle" dominant-baseline="central" style="fill:#3a3a3a;stroke:#3a3a3a;stroke-width:0.25">3</text>
<text transform="translate(868.73 704.16) rotate(267.7)" font-size="7.5" text-anchor="middle" dominant-baseline="central" style="fill:#3a3a3a;stroke:#3a3a3a;stroke-width:0.25">4</text>
<text transform="translate(871.65 717.08) rotate(246.8)" font-size="7.5" text-anchor="middle" dominant-baseline="central" style="fill:#3a3a3a;stroke:#3a3a3a;stroke-width:0.25">5</text>
<text transform="translate(879.3 728.42) rotate(225.2)" font-size="7.5" text-anchor="middle" dominant-baseline="central" style="fill:#3a3a3a;stroke:#3a3a3a;stroke-width:0.25">6</text>
<text transform="translate(890.94 736.3) rotate(203)" font-size="7.5" text-anchor="middle" dominant-baseline="central" style="fill:#3a3a3a;stroke:#3a3a3a;stroke-width:0.25">7</text>
<text transform="translate(904.24 739.19) rotate(181.5)" font-size="7.5" text-anchor="middle" dominant-baseline="central" style="fill:#3a3a3a;stroke:#3a3a3a;stroke-width:0.25">8</text>
<text transform="translate(920.05 669.36) rotate(384)" font-size="7.5" text-anchor="middle" dominant-baseline="central" style="fill:#3a3a3a;stroke:#3a3a3a;stroke-width:0.25">1</text>
<text transform="translate(931.01 676.89) rotate(405)" font-size="7.5" text-anchor="middle" dominant-baseline="central" style="fill:#3a3a3a;stroke:#3a3a3a;stroke-width:0.25">2</text>
<text transform="translate(938.54 687.85) rotate(426)" font-size="7.5" text-anchor="middle" dominant-baseline="central" style="fill:#3a3a3a;stroke:#3a3a3a;stroke-width:0.25">3</text>
<text transform="translate(941.69 702.06) rotate(449)" font-size="7.5" text-anchor="middle" dominant-baseline="central" style="fill:#3a3a3a;stroke:#3a3a3a;stroke-width:0.25">4</text>
<text transform="translate(939.04 716.37) rotate(112)" font-size="7.5" text-anchor="middle" dominant-baseline="central" style="fill:#3a3a3a;stroke:#3a3a3a;stroke-width:0.25">5</text>
<text transform="translate(931.01 728.51) rotate(135)" font-size="7.5" text-anchor="middle" dominant-baseline="central" style="fill:#3a3a3a;stroke:#3a3a3a;stroke-width:0.25">6</text>
<text transform="translate(917.68 737) rotate(160)" font-size="7.5" text-anchor="middle" dominant-baseline="central" style="fill:#3a3a3a;stroke:#3a3a3a;stroke-width:0.25">7</text>
<text x="851.5" y="767.2" font-size="17.44" style="stroke-width:0.12" textLength="108.41" lengthAdjust="spacingAndGlyphs">(Adjustable Part)</text>
</svg></body></html>
